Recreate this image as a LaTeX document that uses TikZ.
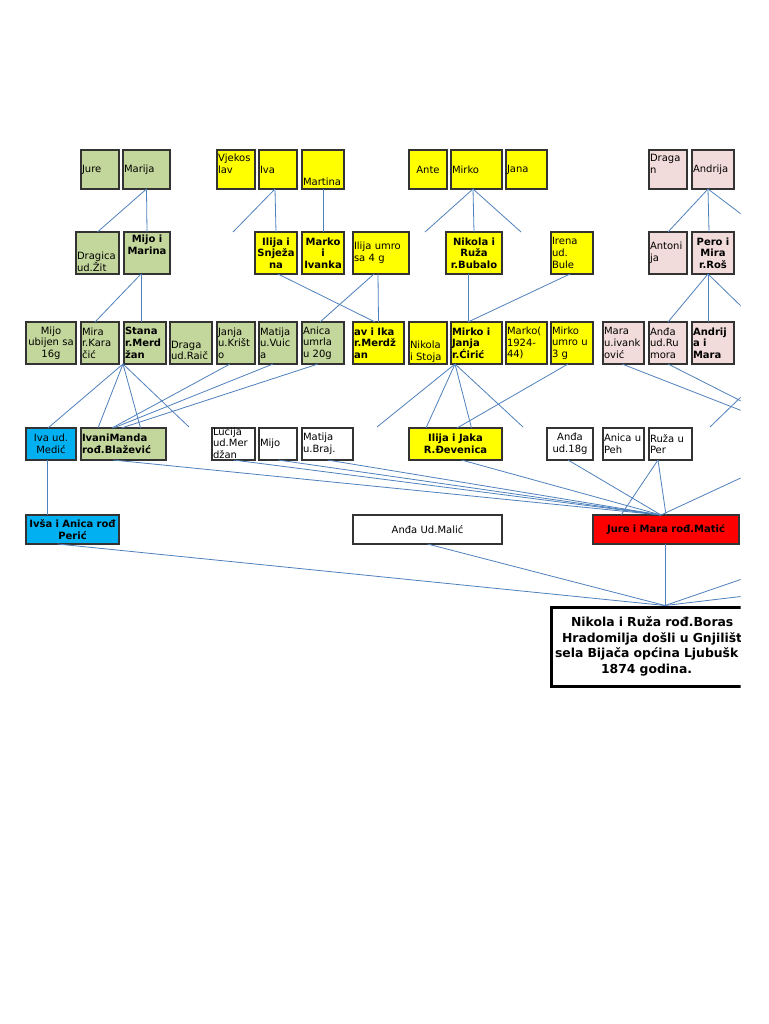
\documentclass[tikz,border=0pt]{standalone}
\usepackage{fontspec}
\setmainfont{DejaVu Sans}
\usepackage{tikz}
\usetikzlibrary{positioning}
\definecolor{famgreen}{RGB}{195,214,155}
\definecolor{famyellow}{RGB}{255,255,0}
\definecolor{fampink}{RGB}{242,220,219}
\definecolor{famblue}{RGB}{0,176,240}
\definecolor{famred}{RGB}{255,0,0}
\definecolor{linkblue}{RGB}{79,129,189}
\tikzset{person/.style={draw=black!80,line width=1.2pt,outer sep=0pt,inner xsep=1pt,inner ysep=1pt,align=left,font=\fontsize{10}{11.7}\selectfont},
  green node/.style={person,fill=famgreen},
  yellow node/.style={person,fill=famyellow},
  pink node/.style={person,fill=fampink},
  white node/.style={person,fill=white},
  blue node/.style={person,fill=famblue},
  red node/.style={person,fill=famred},
  strong/.style={font=\fontsize{10}{11.7}\selectfont\bfseries},
  gen1/.style={minimum height=39pt},
  gen2/.style={minimum height=42pt},
  gen3/.style={minimum height=42pt},
  gen4/.style={minimum height=32pt},
  gen5/.style={minimum height=29pt},
  link/.style={draw,color=linkblue,line width=0.8pt},}

\begin{document}
\begin{tikzpicture}[x=1pt,y=-1pt]
	\fill[white] (0,0) rectangle (768,1024);
	\begin{scope}
	\clip (0,0) rectangle (740.5,1024);
	% generation 1
	\node[green node, gen1, text width=36pt] (jure) at (100,169.5) {Jure};
	\node[green node, gen1, text width=45pt] (marija) [right=4pt of jure] {Marija};
	\node[yellow node, gen1, text width=36pt, text height=11pt, text depth=26pt] (vjekoslav) at (236,169.5) {Vjekos\\lav};
	\node[yellow node, gen1, text width=36pt] (iva) [right=4pt of vjekoslav] {Iva};
	\node[yellow node, gen1, text width=40pt, text height=35pt, text depth=2pt] (martina) [right=5pt of iva] {Martina};
	\node[yellow node, gen1, text width=36pt, align=center] (ante) at (428,169.5) {Ante};
	\node[yellow node, gen1, text width=49pt] (mirko) [right=4pt of ante] {Mirko};
	\node[yellow node, gen1, text width=39pt] (jana) [right=4pt of mirko] {Jana};
	\node[pink node, gen1, text width=36pt, text height=11pt, text depth=26pt] (dragan) at (668,169.5) {Draga\\n};
	\node[pink node, gen1, text width=40pt] (andrija) [right=5pt of dragan] {Andrija};

	% generation 2
	\node[green node, gen2, text width=41pt, text height=26.5pt, text depth=13.5pt] (dragica) at (97.5,253) {Dragica\\ud.Žit};
	\node[green node, gen2, strong, align=center, text width=44pt, text height=10pt, text depth=30pt] (mijomarina) [right=5pt of dragica] {Mijo i\\Marina};
	\node[yellow node, gen2, strong, align=center, text width=40pt] (ilijasnjezana) at (276,253) {Ilija i\\Snježa\\na};
	\node[yellow node, gen2, strong, align=center, text width=40pt] (markoivanka) [right=5pt of ilijasnjezana] {Marko\\i\\Ivanka};
	\node[yellow node, gen2, text width=54pt] (ilijaumro) [right=9pt of markoivanka] {Ilija umro\\sa 4 g};
	\node[yellow node, gen2, strong, align=center, text width=54pt] (nikolaruza) at (474,253) {Nikola i\\Ruža\\r.Bubalo};
	\node[yellow node, gen2, text width=40pt] (irena) at (572,253) {Irena\\ud.\\Bule};
	\node[pink node, gen2, text width=36pt] (antonija) at (668,253) {Antoni\\ja};
	\node[pink node, gen2, strong, align=center, text width=40pt] (peromira) [right=5pt of antonija] {Pero i\\Mira\\r.Roš};

	% generation 3
	\node[green node, gen3, align=center, text width=48pt] (mijoubijen) at (51,343) {Mijo\\ubijen sa\\16g};
	\node[green node, gen3, text width=36pt] (mira) [right=5pt of mijoubijen] {Mira\\r.Kara\\čić};
	\node[green node, gen3, strong, text width=40pt] (stana) [right=5pt of mira] {Stana\\r.Merd\\žan};
	\node[green node, gen3, text width=40pt, text height=25pt, text depth=15pt] (draga) [right=4pt of stana] {Draga\\ud.Raič};
	\node[green node, gen3, text width=36pt] (janja) [right=5pt of draga] {Janja\\u.Krišt\\o};
	\node[green node, gen3, text width=36pt] (matijavuica) [right=4pt of janja] {Matija\\u.Vuic\\a};
	\node[green node, gen3, text width=40pt] (anica) [right=5pt of matijavuica] {Anica\\umrla\\u 20g};
	\node[yellow node, gen3, strong, text width=49pt] (ika) [right=9pt of anica] {av i Ika\\r.Merdž\\an};
	\node[yellow node, gen3, text width=36pt, text height=25.5pt, text depth=14.5pt] (nikolastoja) [right=5pt of ika] {Nikola\\i Stoja};
	\node[yellow node, gen3, strong, text width=49pt] (mirkojanja) [right=4pt of nikolastoja] {Mirko i\\Janja\\r.Ćirić};
	\node[yellow node, gen3, text width=39pt] (marko) [right=4pt of mirkojanja] {Marko(\\1924-\\44)};
	\node[yellow node, gen3, text width=40pt] (mirkoumro) [right=4pt of marko] {Mirko\\umro u\\3 g};
	\node[pink node, gen3, text width=39pt] (mara) [right=10pt of mirkoumro] {Mara\\u.ivank\\ović};
	\node[pink node, gen3, text width=36pt] (andja) [right=5pt of mara] {Anđa\\ud.Ru\\mora};
	\node[pink node, gen3, strong, text width=40pt] (andrijamara) [right=5pt of andja] {Andrij\\a i\\Mara};

	% generation 4
	\node[blue node, gen4, align=center, text width=48pt] (ivamedic) at (51,444) {Iva ud.\\Medić};
	\node[green node, gen4, strong, text width=83pt] (ivanimanda) [right=5pt of ivamedic] {IvaniManda\\rođ.Blažević};
	\node[white node, gen4, text width=41pt, text height=6pt, text depth=24pt] (lucija) at (233.5,444) {Lucija\\ud.Mer\\džan};
	\node[white node, gen4, text width=36pt] (mijo) [right=4pt of lucija] {Mijo};
	\node[white node, gen4, text width=49pt] (matijabraj) [right=5pt of mijo] {Matija\\u.Braj.};
	\node[yellow node, gen4, strong, align=center, text width=91pt] (ilijajaka) at (455.5,444) {Ilija i Jaka\\R.Đevenica};
	\node[white node, gen4, align=center, text width=44pt] (andja18) at (570,444) {Anđa\\ud.18g};
	\node[white node, gen4, text width=39pt] (anicapeh) [right=10pt of andja18] {Anica u\\Peh};
	\node[white node, gen4, text width=41pt] (ruzaper) [right=5pt of anicapeh] {Ruža u\\Per};

	% generation 5
	\node[blue node, gen5, align=center, inner xsep=0.5pt, text width=92pt, font=\fontsize{10}{12.5}\selectfont\bfseries] (ivsa) at (72.5,529.5) {Ivša i Anica rođ\\Perić};
	\node[white node, gen5, align=center, text width=147pt] (andjamalic) at (427.5,529.5) {Anđa Ud.Malić};
	\node[red node, gen5, strong, align=center, text width=144pt] (jurem) at (666,529.5) {Jure i Mara rođ.Matić};

	% founders
	\node[draw=black, line width=3pt, minimum width=210pt, minimum height=79pt, inner sep=2pt, text width=206pt, align=left, font=\fontsize{12.4}{15.5}\selectfont\bfseries] (founders) at (656,646.5) {\hspace*{18pt}Nikola i Ruža rođ.Boras\\\hspace*{9pt}Hradomilja došli u Gnjilišt\\\hspace*{2pt}sela Bijača općina Ljubušk\\\hspace*{48pt}1874 godina.};

	% loose ends
	\coordinate (ivastub) at (233,232);
	\coordinate (mirkostubl) at (425,232);
	\coordinate (mirkostubr) at (521,232);
	\coordinate (andrijastub) at (745,217);
	\coordinate (perostub) at (745,310);
	\coordinate (stanastub) at (189,427);
	\coordinate (janjastubl) at (377,427);
	\coordinate (janjastubr) at (523,427);
	\coordinate (marastub) at (745,412);
	\coordinate (andjastub) at (745,403);
	\coordinate (loosea) at (710,427);
	\coordinate (looseb) at (745,393);
	\coordinate (jurestub) at (745,476);
	\coordinate (rootstuba) at (745,578);
	\coordinate (rootstubb) at (745,596);
	\coordinate (jtop) at ([xshift=-5pt]jurem.north);
	\coordinate (rtop) at ([xshift=9pt]founders.north);
	\coordinate (ivadrop) at ([xshift=-4pt]ivamedic.south);

	\path[link]
	(marija.south) edge (dragica.north)
	(marija.south) edge (mijomarina.north)
	([xshift=-3pt]iva.south) edge (ivastub)
	([xshift=-3pt]iva.south) edge (ilijasnjezana.north)
	(martina.south) edge (markoivanka.north)
	([xshift=-3.5pt]mirko.south) edge (mirkostubl)
	([xshift=-3.5pt]mirko.south) edge (nikolaruza.north)
	([xshift=-3.5pt]mirko.south) edge (mirkostubr)
	([xshift=-5pt]andrija.south) edge (antonija.north)
	([xshift=-5pt]andrija.south) edge ([xshift=-4pt]peromira.north)
	([xshift=-5pt]andrija.south) edge (andrijastub)
	([xshift=-6pt]mijomarina.south) edge ([xshift=-5pt]mira.north)
	([xshift=-6pt]mijomarina.south) edge ([xshift=-4pt]stana.north)
	([xshift=2pt]ilijasnjezana.south) edge ([xshift=-3.5pt]ika.north)
	([xshift=-7pt]ilijaumro.south) edge ([xshift=-3pt]anica.north)
	([xshift=-3pt]ilijaumro.south) edge (ika.north)
	([xshift=-6pt]nikolaruza.south) edge ([xshift=-8.5pt]mirkojanja.north)
	([xshift=-2pt]irena.south) edge ([xshift=-8.5pt]mirkojanja.north)
	([xshift=-5pt]peromira.south) edge (andja.north)
	([xshift=-5pt]peromira.south) edge ([xshift=-5pt]andrijamara.north)
	([xshift=-5pt]peromira.south) edge (perostub);

	\path[link]
	([xshift=-22pt]stana.south) edge ([xshift=-3pt]ivamedic.north)
	([xshift=-22pt]stana.south) edge ([xshift=-25.5pt]ivanimanda.north)
	([xshift=-22pt]stana.south) edge ([xshift=17pt]ivanimanda.north)
	([xshift=-22pt]stana.south) edge (stanastub)
	([xshift=-6pt]janja.south) edge ([xshift=-11.5pt]ivanimanda.north)
	([xshift=-5pt]matijavuica.south) edge ([xshift=-10pt]ivanimanda.north)
	([xshift=-5pt]anica.south) edge ([xshift=-2pt]ivanimanda.north)
	([xshift=-21.5pt]mirkojanja.south) edge (janjastubl)
	([xshift=-21.5pt]mirkojanja.south) edge ([xshift=-29.5pt]ilijajaka.north)
	([xshift=-21.5pt]mirkojanja.south) edge ([xshift=16pt]ilijajaka.north)
	([xshift=-21.5pt]mirkojanja.south) edge (janjastubr)
	([xshift=-4pt]mirkoumro.south) edge ([xshift=1.5pt]ilijajaka.north)
	([xshift=-1.5pt]mara.south) edge (marastub)
	(andja.south) edge (andjastub)
	(loosea) edge (looseb);

	\path[link]
	([xshift=-10.5pt]ivanimanda.south) edge (jtop)
	(lucija.south) edge (jtop)
	(mijo.south) edge (jtop)
	(matijabraj.south) edge (jtop)
	([xshift=6pt]ilijajaka.south) edge (jtop)
	([xshift=-2pt]andja18.south) edge (jtop)
	([xshift=-12.5pt]ruzaper.south) edge ([xshift=-45pt]jurem.north)
	([xshift=-12.5pt]ruzaper.south) edge (jurem.north)
	(jurestub) edge (jtop)
	(ivadrop) edge (ivadrop |- ivsa.north)
	([xshift=-15pt]ivsa.south) edge (rtop)
	(andjamalic.south) edge (rtop)
	([xshift=-1pt]jurem.south) edge (rtop)
	(rootstuba) edge (rtop)
	(rootstubb) edge (rtop);
	\end{scope}
\end{tikzpicture}
\end{document}
